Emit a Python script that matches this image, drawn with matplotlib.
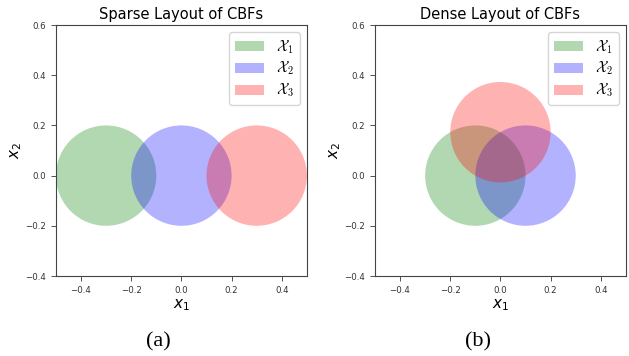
import numpy as np
import matplotlib
matplotlib.use("Agg")
import matplotlib.pyplot as plt
from matplotlib.patches import Circle
from matplotlib.font_manager import FontProperties

# circle sets (centres, shared radius)
labels = [r'$\mathcal{X}_1$', r'$\mathcal{X}_2$', r'$\mathcal{X}_3$']
colors = ['g', 'b', 'r']
radius = 0.2
sparse_x = [-0.3, 0.0, 0.3]
sparse_y = [0.0, 0.0, 0.0]
dense_x = [-0.1, 0.1, 0.0]
dense_y = [0.0, 0.0, 0.173]
titles = ['Sparse Layout of CBFs', 'Dense Layout of CBFs']
captions = ['(a)', '(b)']
xticks = [-0.4, -0.2, 0.0, 0.2, 0.4]
yticks = [-0.4, -0.2, 0.0, 0.2, 0.4, 0.6]

fig = plt.figure(figsize=(6.29, 3.56), dpi=100)
ax1 = fig.add_axes([0.0874, 0.2247, 0.402, 0.705])
ax2 = fig.add_axes([0.5946, 0.2247, 0.402, 0.705])

leg_prop = FontProperties(size=10.5, math_fontfamily='cm')

for ax, xs, ys, title, cap in zip([ax1, ax2], [sparse_x, dense_x], [sparse_y, dense_y],
                                  titles, captions):
    for x, y, c, lab in zip(xs, ys, colors, labels):
        ax.add_patch(Circle((x, y), radius, color=c, alpha=0.3, label=lab, lw=0))
    ax.set_xlim(-0.5, 0.5)
    ax.set_ylim(-0.4, 0.6)
    ax.set_aspect('equal')
    ax.set_xticks(xticks)
    ax.set_yticks(yticks)
    ax.tick_params(labelsize=6.2, length=3.5, width=0.6, colors='#333333')
    for s in ax.spines.values():
        s.set_color('#444444')
        s.set_linewidth(0.8)
    ax.set_title(title, fontsize=10.5, pad=4)
    ax.set_xlabel(r'$x_1$', fontsize=11, labelpad=1.5)
    ax.set_ylabel(r'$x_2$', fontsize=11, labelpad=1)
    ax.legend(loc='upper right', prop=leg_prop, handlelength=2.0, labelspacing=0.3)
    pos = ax.get_position()
    fig.text((pos.x0 + pos.x1) / 2 - 0.036, 0.04, cap, ha='center', va='center',
             fontsize=16, family='Liberation Serif')

fig.savefig('out.png', dpi=100)
